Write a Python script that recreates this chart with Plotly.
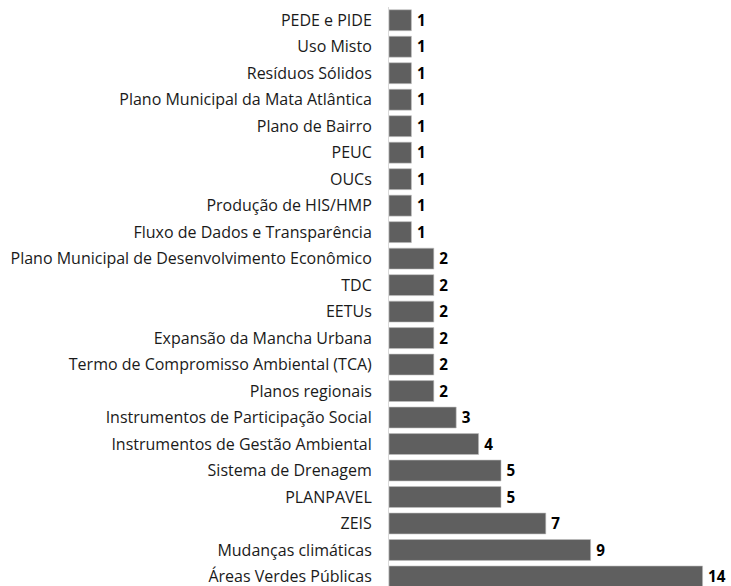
import plotly.graph_objects as go

categories = [
    "PEDE e PIDE", "Uso Misto", "Resíduos Sólidos", "Plano Municipal da Mata Atlântica",
    "Plano de Bairro", "PEUC", "OUCs", "Produção de HIS/HMP",
    "Fluxo de Dados e Transparência", "Plano Municipal de Desenvolvimento Econômico",
    "TDC", "EETUs", "Expansão da Mancha Urbana", "Termo de Compromisso Ambiental (TCA)",
    "Planos regionais", "Instrumentos de Participação Social",
    "Instrumentos de Gestão Ambiental", "Sistema de Drenagem", "PLANPAVEL", "ZEIS",
    "Mudanças climáticas", "Áreas Verdes Públicas",
]
values = [1, 1, 1, 1, 1, 1, 1, 1, 1, 2, 2, 2, 2, 2, 2, 3, 4, 5, 5, 7, 9, 14]

fig = go.Figure(go.Bar(
    y=categories, x=values, orientation="h",
    marker=dict(color="#5f5f5f", line=dict(color="#bfbfbf", width=0.6)),
    text=["\u2009" + str(v) for v in values], textposition="outside",
    textfont=dict(family="Open Sans", size=16, color="#000000", weight="bold"),
    cliponaxis=False, width=0.79,
))
fig.update_layout(
    width=731, height=586,
    margin=dict(l=389, r=6, t=7, b=0),
    plot_bgcolor="white", paper_bgcolor="white",
    font=dict(family="Open Sans", size=16, color="#1a1a1a"),
    showlegend=False,
    xaxis=dict(range=[0, 15], visible=False),
    yaxis=dict(
        categoryorder="array", categoryarray=categories,
        range=[21.36, -0.5], showline=True, linecolor="#d9d9d9", linewidth=1,
        ticks="", ticklabelstandoff=13, showgrid=False,
    ),
)
fig.write_html(
    "out.html",
    config={"displayModeBar": False},
    post_script="document.body.style.margin='0';document.body.style.overflow='hidden';",
)
